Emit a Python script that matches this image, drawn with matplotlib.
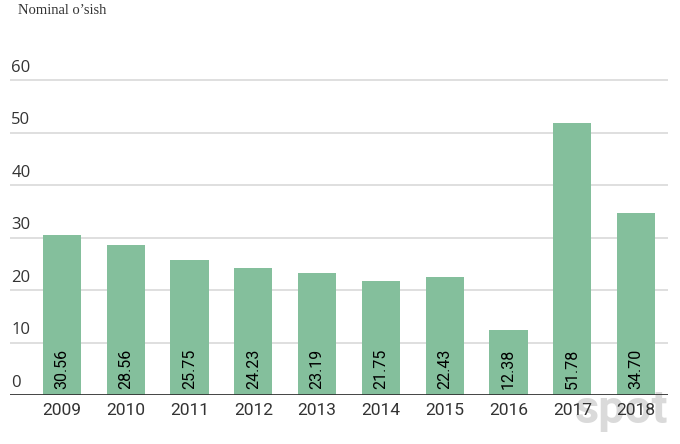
import matplotlib
matplotlib.use("Agg")
import matplotlib.pyplot as plt

years = ["2009", "2010", "2011", "2012", "2013", "2014", "2015", "2016", "2017", "2018"]
values = [30.56, 28.56, 25.75, 24.23, 23.19, 21.75, 22.43, 12.38, 51.78, 34.70]
labels = ["30.56", "28.56", "25.75", "24.23", "23.19", "21.75", "22.43", "12.38", "51.78", "34.70"]
yticks = [0, 10, 20, 30, 40, 50, 60]
title = "Nominal o\u2019sish"

fig = plt.figure(figsize=(6.8, 4.44), dpi=100)
W, H = 680, 444
ax = fig.add_axes([10 / W, (H - 395) / H, 658 / W, 341.25 / H])
ax.patch.set_alpha(0)

x = list(range(len(years)))
ax.bar(x, values, width=0.6, color="#84bf9c", zorder=3)
ax.set_xlim(-0.815, 9.5)
ax.set_ylim(0, 65)

for yv in yticks:
    if yv > 0:
        ax.axhline(yv, color="#dcdcdc", lw=1.3, zorder=1)
    ax.annotate(str(yv), xy=(0, yv), xycoords=("axes fraction", "data"),
                xytext=(1, 3), textcoords="offset points", ha="left", va="bottom",
                fontsize=12, family="Open Sans", color="#333333")
ax.axhline(0, color="#333333", lw=2, zorder=4)

for xi, v, lab in zip(x, values, labels):
    ax.annotate(lab, xy=(xi, 0), xytext=(0, 4), textcoords="offset points",
                ha="center", va="bottom", rotation=90, fontsize=11.5,
                family="Roboto", color="black", zorder=5)

ax.set_xticks(x)
ax.set_xticklabels(years, fontsize=12.5, family="Roboto", color="#333333")
ax.tick_params(axis="x", length=0, pad=6)
ax.set_yticks([])
for s in ax.spines.values():
    s.set_visible(False)

fig.text(18 / W, 1 - 4 / H, title, ha="left", va="top", fontsize=10.5,
         family="Liberation Serif", color="#333333")

fig.text(668 / W, (H - 423) / H, "spot", ha="right", va="baseline", fontsize=34,
         family="Roboto", fontweight="bold", color="#dadada", zorder=-1)

fig.savefig("out.png", dpi=100)
